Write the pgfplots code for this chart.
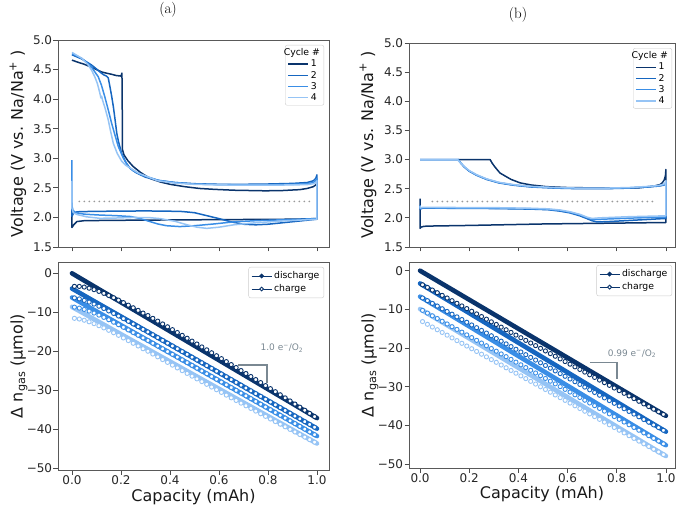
\documentclass[border=0pt]{standalone}
\usepackage{pgfplots}
\pgfplotsset{compat=1.18}
\usepackage{fontspec}
\newfontfamily\dv{DejaVu Sans}
\definecolor{c1}{RGB}{10,52,108}
\definecolor{c2}{RGB}{22,102,192}
\definecolor{c3}{RGB}{58,142,230}
\definecolor{c4}{RGB}{150,196,245}
\definecolor{slate}{RGB}{122,136,146}
\pgfplotsset{
  myax/.style={scale only axis, anchor=south west,
    axis line style={draw=black!65, line width=0.8pt},
    tick style={black!70, line width=0.8pt},
    tick align=outside, major tick length=4.5pt,
    xtick pos=bottom, ytick pos=left,
    tick label style={font=\dv\fontsize{12}{14}\selectfont, text=black!85, inner sep=1.2pt},
    label style={font=\dv\fontsize{16}{18}\selectfont, text=black!90},
    xtick={0,0.2,0.4,0.6,0.8,1},
    legend image code/.code={\draw[mark repeat=2,mark phase=2,##1] plot coordinates {(0pt,0pt) (10pt,0pt) (20pt,0pt)};},
  },
  vlt/.style={ymin=1.5, ymax=5.0, ytick={1.5,2,2.5,3,3.5,4,4.5,5},
    yticklabels={1.5,2.0,2.5,3.0,3.5,4.0,4.5,5.0}, xticklabels={},
    ylabel={Voltage (V vs. Na/Na\textsuperscript{+} )},
    legend cell align=left,
    legend style={font=\dv\fontsize{9.3}{10}\selectfont, draw=black!20, rounded corners=2pt,
      fill=white, inner xsep=2pt, inner ysep=1.5pt, row sep=-1.2pt}},
  gas/.style={ytick={-50,-40,-30,-20,-10,0},
    yticklabels={−50,−40,−30,−20,−10,0},
    xticklabels={0.0,0.2,0.4,0.6,0.8,1.0},
    xlabel={Capacity (mAh)},
    ylabel={Δ n\textsubscript{gas} (µmol)},
    legend cell align=left,
    legend style={font=\dv\fontsize{9.3}{10}\selectfont, draw=black!20, rounded corners=2pt,
      fill=white, inner xsep=2.5pt, inner ysep=2.5pt, row sep=0.5pt}},
  vl/.style={line width=1.5pt, line join=round},
  dis/.style={forget plot, line width=4.6pt, line cap=round, line join=round},
  chg/.style={forget plot, only marks, mark=*, mark size=2.1pt, mark options={fill=white, line width=0.9pt}},
  dotl/.style={gray!80, line width=1.9pt, dash pattern=on 0pt off 5pt, line cap=round},
}
\begin{document}
\begin{tikzpicture}
\path[use as bounding box] (0pt,0pt) rectangle (685pt,509pt);
\node[font=\fontsize{15}{17}\selectfont] at (168pt,499pt) {(a)};
\node[font=\fontsize{15}{17}\selectfont] at (518pt,494.5pt) {(b)};

% ---------------- (a) voltage ----------------
\begin{axis}[myax, vlt, at={(58pt,262pt)}, width=271pt, height=207pt,
  xmin=-0.057, xmax=1.049,
  ylabel style={at={(axis description cs:-0.148,0.5)}, anchor=center},
  legend style={at={(0.982,0.976)}, anchor=north east}]
\addplot[dotl, forget plot] coordinates {(0.03,2.27) (0.97,2.27)};
\addlegendimage{empty legend}
\addlegendentry{\hspace{-27pt}Cycle \#}
\addplot[vl, c1] coordinates {(0,2.05)(0,1.83)(0.008,1.88)(0.02,1.93)(0.05,1.945)(0.15,1.95)(0.3,1.955)(0.5,1.96)(0.7,1.965)(0.9,1.97)(1,1.98)(1,2.58)(0.995,2.55)(0.985,2.52)(0.96,2.49)(0.93,2.47)(0.86,2.455)(0.79,2.45)(0.66,2.46)(0.58,2.475)(0.52,2.49)(0.46,2.52)(0.40,2.56)(0.36,2.60)(0.318,2.66)(0.28,2.76)(0.25,2.86)(0.228,2.96)(0.212,3.06)(0.206,3.15)(0.205,4.0)(0.204,4.44)(0.2,4.39)(0.18,4.40)(0.162,4.42)(0.14,4.44)(0.121,4.46)(0.1,4.50)(0.079,4.54)(0.05,4.59)(0.02,4.63)(0,4.66)};
\addlegendentry{1}
\addplot[vl, c2] coordinates {(0,2.25)(0,2.02)(0.006,2.07)(0.02,2.095)(0.06,2.10)(0.15,2.105)(0.3,2.11)(0.4,2.105)(0.45,2.10)(0.5,2.08)(0.55,2.03)(0.6,1.98)(0.65,1.925)(0.7,1.885)(0.75,1.875)(0.8,1.885)(0.86,1.91)(0.93,1.94)(1,1.97)(1,2.72)(0.995,2.66)(0.985,2.62)(0.96,2.59)(0.9,2.575)(0.8,2.565)(0.7,2.56)(0.6,2.56)(0.5,2.57)(0.42,2.59)(0.36,2.62)(0.3,2.68)(0.26,2.76)(0.237,2.83)(0.22,2.93)(0.203,3.08)(0.19,3.28)(0.183,3.42)(0.176,3.65)(0.169,3.87)(0.162,4.05)(0.155,4.21)(0.148,4.36)(0.141,4.39)(0.13,4.41)(0.12,4.44)(0.1,4.51)(0.079,4.58)(0.04,4.68)(0,4.75)};
\addlegendentry{2}
\addplot[vl, c3] coordinates {(0,2.97)(0,2.2)(0.004,2.12)(0.015,2.08)(0.05,2.055)(0.114,2.04)(0.18,2.03)(0.24,2.015)(0.28,1.98)(0.318,1.93)(0.35,1.89)(0.386,1.86)(0.44,1.845)(0.5,1.86)(0.58,1.89)(0.66,1.925)(0.75,1.945)(0.86,1.96)(1,1.98)(1,2.66)(0.995,2.62)(0.985,2.59)(0.96,2.57)(0.9,2.56)(0.8,2.55)(0.7,2.55)(0.6,2.555)(0.5,2.565)(0.42,2.59)(0.35,2.63)(0.284,2.72)(0.25,2.79)(0.23,2.86)(0.21,3.0)(0.189,3.2)(0.175,3.4)(0.162,3.59)(0.148,3.82)(0.134,4.04)(0.12,4.24)(0.107,4.38)(0.09,4.48)(0.079,4.55)(0.04,4.69)(0,4.77)};
\addlegendentry{3}
\addplot[vl, c4] coordinates {(0,2.62)(0,2.15)(0.006,2.08)(0.02,2.05)(0.06,2.01)(0.114,1.985)(0.18,1.99)(0.25,2.0)(0.32,1.995)(0.36,1.98)(0.42,1.935)(0.47,1.875)(0.51,1.835)(0.55,1.815)(0.6,1.835)(0.66,1.875)(0.75,1.91)(0.86,1.94)(1,1.97)(1,2.62)(0.995,2.59)(0.985,2.57)(0.96,2.555)(0.9,2.55)(0.8,2.545)(0.7,2.545)(0.6,2.55)(0.5,2.56)(0.42,2.58)(0.35,2.62)(0.271,2.75)(0.24,2.83)(0.22,2.88)(0.203,2.95)(0.185,3.08)(0.169,3.25)(0.158,3.45)(0.148,3.65)(0.135,3.85)(0.125,3.98)(0.121,4.05)(0.118,4.02)(0.114,4.1)(0.104,4.26)(0.093,4.38)(0.08,4.49)(0.066,4.58)(0.04,4.69)(0,4.79)};
\addlegendentry{4}
\end{axis}

% ---------------- (b) voltage ----------------
\begin{axis}[myax, vlt, at={(409pt,262pt)}, width=266pt, height=204pt,
  xmin=-0.045, xmax=1.037,
  ylabel style={at={(axis description cs:-0.154,0.5)}, anchor=center},
  legend style={at={(0.989,0.975)}, anchor=north east}]
\addplot[dotl, forget plot] coordinates {(0.05,2.28) (0.95,2.28)};
\addlegendimage{empty legend}
\addlegendentry{\hspace{-27pt}Cycle \#}
\addplot[vl, c1] coordinates {(0,2.33)(0,1.82)(0.004,1.84)(0.015,1.855)(0.05,1.86)(0.2,1.87)(0.5,1.895)(0.8,1.91)(1,1.92)(1,2.83)(0.998,2.72)(0.993,2.65)(0.985,2.6)(0.976,2.57)(0.95,2.545)(0.89,2.515)(0.8,2.51)(0.69,2.515)(0.6,2.52)(0.515,2.535)(0.45,2.565)(0.407,2.6)(0.37,2.66)(0.345,2.72)(0.325,2.77)(0.305,2.87)(0.293,2.94)(0.285,3.0)(0.155,3.0)};
\addlegendentry{1}
\addplot[vl, c2] coordinates {(0,2.22)(0,2.15)(0.01,2.165)(0.1,2.165)(0.3,2.16)(0.45,2.15)(0.52,2.14)(0.57,2.115)(0.61,2.085)(0.65,2.035)(0.68,1.985)(0.7,1.95)(0.72,1.93)(0.76,1.935)(0.85,1.955)(1,1.99)(1,2.6)(0.997,2.575)(0.99,2.56)(0.97,2.545)(0.93,2.53)(0.85,2.51)(0.75,2.50)(0.65,2.50)(0.55,2.51)(0.45,2.53)(0.38,2.56)(0.32,2.6)(0.27,2.66)(0.23,2.73)(0.2,2.8)(0.18,2.87)(0.165,2.94)(0.155,3.0)(0,3.0)};
\addlegendentry{2}
\addplot[vl, c3] coordinates {(0,2.2)(0,2.16)(0.01,2.17)(0.3,2.165)(0.45,2.155)(0.52,2.145)(0.57,2.125)(0.61,2.095)(0.65,2.05)(0.68,2.0)(0.7,1.97)(0.73,1.975)(0.85,1.995)(1,2.015)(1,2.62)(0.997,2.585)(0.99,2.565)(0.97,2.55)(0.93,2.535)(0.85,2.515)(0.75,2.505)(0.65,2.505)(0.55,2.515)(0.45,2.535)(0.38,2.565)(0.32,2.605)(0.27,2.665)(0.23,2.735)(0.2,2.805)(0.18,2.875)(0.165,2.945)(0.155,3.0)(0,3.0)};
\addlegendentry{3}
\addplot[vl, c4] coordinates {(0,2.21)(0,2.17)(0.01,2.18)(0.3,2.175)(0.45,2.165)(0.52,2.155)(0.57,2.135)(0.61,2.105)(0.65,2.06)(0.68,2.01)(0.7,1.99)(0.73,2.0)(0.85,2.02)(1,2.035)(1,2.64)(0.997,2.595)(0.99,2.575)(0.97,2.555)(0.93,2.54)(0.85,2.52)(0.75,2.51)(0.65,2.51)(0.55,2.52)(0.45,2.54)(0.38,2.57)(0.32,2.61)(0.27,2.67)(0.23,2.74)(0.2,2.81)(0.18,2.88)(0.163,2.95)(0.152,3.0)(0,3.0)};
\addlegendentry{4}
\end{axis}

% ---------------- (a) gas ----------------
\begin{axis}[myax, gas, at={(58pt,39pt)}, width=271pt, height=208pt,
  xmin=-0.057, xmax=1.049, ymin=-50.4, ymax=2.9,
  ylabel style={at={(axis description cs:-0.144,0.5)}, anchor=center},
  xlabel style={at={(axis description cs:0.5,-0.092)}, anchor=north, inner sep=0pt},
  legend style={at={(0.982,0.976)}, anchor=north east}]
\addlegendimage{c1, line width=0.9pt, mark=*, mark size=1.9pt}
\addlegendentry{discharge}
\addlegendimage{c1, line width=0.9pt, mark=*, mark size=1.9pt, mark options={fill=white}}
\addlegendentry{charge}
\addplot[dis, c1] coordinates {(0,0)(0.1,-3.71)(0.2,-7.42)(0.3,-11.13)(0.4,-14.84)(0.5,-18.55)(0.6,-22.26)(0.7,-25.97)(0.8,-29.68)(0.9,-33.39)(1.0,-37.1)};
\addplot[chg, c1] coordinates {(0.01,-3.34)(0.03,-3.36)(0.05,-3.52)(0.07,-3.81)(0.09,-4.18)(0.11,-4.63)(0.13,-5.13)(0.15,-5.68)(0.17,-6.26)(0.19,-6.87)(0.21,-7.51)(0.23,-8.16)(0.25,-8.83)(0.27,-9.50)(0.29,-10.19)(0.31,-10.82)(0.33,-11.54)(0.35,-12.26)(0.37,-12.98)(0.39,-13.71)(0.41,-14.44)(0.43,-15.17)(0.45,-15.90)(0.47,-16.64)(0.49,-17.38)(0.51,-18.12)(0.53,-18.87)(0.55,-19.61)(0.57,-20.36)(0.59,-21.12)(0.61,-21.87)(0.63,-22.63)(0.65,-23.39)(0.67,-24.15)(0.69,-24.92)(0.71,-25.68)(0.73,-26.45)(0.75,-27.23)(0.77,-28.00)(0.79,-28.78)(0.81,-29.56)(0.83,-30.34)(0.85,-31.13)(0.87,-31.92)(0.89,-32.71)(0.91,-33.50)(0.93,-34.30)(0.95,-35.09)(0.97,-35.89)(0.99,-36.70)};
\addplot[dis, c2] coordinates {(0,-3.9)(0.1,-7.49)(0.2,-11.08)(0.3,-14.67)(0.4,-18.26)(0.5,-21.85)(0.6,-25.44)(0.7,-29.03)(0.8,-32.62)(0.9,-36.21)(1.0,-39.8)};
\addplot[chg, c2] coordinates {(0.01,-6.29)(0.03,-6.56)(0.05,-6.93)(0.07,-7.37)(0.09,-7.88)(0.11,-8.43)(0.13,-9.02)(0.15,-9.64)(0.17,-10.28)(0.19,-10.94)(0.21,-11.61)(0.23,-12.29)(0.25,-12.98)(0.27,-13.67)(0.29,-14.37)(0.31,-15.03)(0.33,-15.75)(0.35,-16.47)(0.37,-17.18)(0.39,-17.90)(0.41,-18.62)(0.43,-19.34)(0.45,-20.06)(0.47,-20.77)(0.49,-21.49)(0.51,-22.21)(0.53,-22.93)(0.55,-23.65)(0.57,-24.36)(0.59,-25.08)(0.61,-25.80)(0.63,-26.52)(0.65,-27.24)(0.67,-27.95)(0.69,-28.67)(0.71,-29.39)(0.73,-30.11)(0.75,-30.83)(0.77,-31.54)(0.79,-32.26)(0.81,-32.98)(0.83,-33.70)(0.85,-34.42)(0.87,-35.13)(0.89,-35.85)(0.91,-36.57)(0.93,-37.29)(0.95,-38.01)(0.97,-38.72)(0.99,-39.44)};
\addplot[dis, c3] coordinates {(0,-6.2)(0.1,-9.75)(0.2,-13.3)(0.3,-16.85)(0.4,-20.4)(0.5,-23.95)(0.6,-27.5)(0.7,-31.05)(0.8,-34.6)(0.9,-38.15)(1.0,-41.7)};
\addplot[chg, c3] coordinates {(0.01,-8.67)(0.03,-8.91)(0.05,-9.26)(0.07,-9.69)(0.09,-10.18)(0.11,-10.71)(0.13,-11.29)(0.15,-11.89)(0.17,-12.52)(0.19,-13.17)(0.21,-13.83)(0.23,-14.50)(0.25,-15.18)(0.27,-15.87)(0.29,-16.56)(0.31,-17.21)(0.33,-17.92)(0.35,-18.63)(0.37,-19.34)(0.39,-20.05)(0.41,-20.76)(0.43,-21.47)(0.45,-22.18)(0.47,-22.89)(0.49,-23.60)(0.51,-24.31)(0.53,-25.02)(0.55,-25.73)(0.57,-26.44)(0.59,-27.15)(0.61,-27.86)(0.63,-28.57)(0.65,-29.28)(0.67,-29.99)(0.69,-30.70)(0.71,-31.41)(0.73,-32.12)(0.75,-32.83)(0.77,-33.54)(0.79,-34.25)(0.81,-34.96)(0.83,-35.67)(0.85,-36.38)(0.87,-37.09)(0.89,-37.80)(0.91,-38.51)(0.93,-39.22)(0.95,-39.93)(0.97,-40.64)(0.99,-41.35)};
\addplot[dis, c4] coordinates {(0,-8.6)(0.1,-12.1)(0.2,-15.6)(0.3,-19.1)(0.4,-22.6)(0.5,-26.1)(0.6,-29.6)(0.7,-33.1)(0.8,-36.6)(0.9,-40.1)(1.0,-43.6)};
\addplot[chg, c4] coordinates {(0.01,-11.53)(0.03,-11.71)(0.05,-12.02)(0.07,-12.42)(0.09,-12.89)(0.11,-13.42)(0.13,-13.99)(0.15,-14.60)(0.17,-15.23)(0.19,-15.89)(0.21,-16.56)(0.23,-17.24)(0.25,-17.93)(0.27,-18.62)(0.29,-19.32)(0.31,-19.96)(0.33,-20.68)(0.35,-21.40)(0.37,-22.11)(0.39,-22.82)(0.41,-23.53)(0.43,-24.24)(0.45,-24.94)(0.47,-25.65)(0.49,-26.35)(0.51,-27.05)(0.53,-27.75)(0.55,-28.44)(0.57,-29.14)(0.59,-29.83)(0.61,-30.52)(0.63,-31.21)(0.65,-31.90)(0.67,-32.58)(0.69,-33.26)(0.71,-33.94)(0.73,-34.62)(0.75,-35.30)(0.77,-35.98)(0.79,-36.65)(0.81,-37.32)(0.83,-37.99)(0.85,-38.66)(0.87,-39.32)(0.89,-39.99)(0.91,-40.65)(0.93,-41.31)(0.95,-41.96)(0.97,-42.62)(0.99,-43.27)};
\addplot[slate, line width=1.4pt, forget plot] coordinates {(0.678,-23.5)(0.796,-23.5)(0.796,-28.1)};
\node[font=\dv\fontsize{9}{10}\selectfont, text=slate] at (axis cs:0.857,-19.2) {1.0 e\textsuperscript{−}/O\textsubscript{2}};
\end{axis}

% ---------------- (b) gas ----------------
\begin{axis}[myax, gas, at={(409pt,41pt)}, width=266pt, height=206pt,
  xmin=-0.045, xmax=1.037, ymin=-51, ymax=2.25,
  ylabel style={at={(axis description cs:-0.147,0.5)}, anchor=center},
  xlabel style={at={(axis description cs:0.5,-0.09)}, anchor=north, inner sep=0pt},
  legend style={at={(0.989,0.985)}, anchor=north east}]
\addlegendimage{c1, line width=0.9pt, mark=*, mark size=1.9pt}
\addlegendentry{discharge}
\addlegendimage{c1, line width=0.9pt, mark=*, mark size=1.9pt, mark options={fill=white}}
\addlegendentry{charge}
\addplot[dis, c1] coordinates {(0,0)(0.1,-3.75)(0.2,-7.5)(0.3,-11.25)(0.4,-15)(0.5,-18.75)(0.6,-22.5)(0.7,-26.25)(0.8,-30)(0.9,-33.75)(1.0,-37.5)};
\addplot[chg, c1] coordinates {(0.01,-3.64)(0.03,-4.33)(0.05,-5.01)(0.07,-5.69)(0.09,-6.38)(0.11,-7.06)(0.13,-7.75)(0.15,-8.43)(0.17,-9.11)(0.19,-9.80)(0.21,-10.48)(0.23,-11.17)(0.25,-11.85)(0.27,-12.53)(0.29,-13.22)(0.31,-13.90)(0.33,-14.59)(0.35,-15.27)(0.37,-15.95)(0.39,-16.64)(0.41,-17.32)(0.43,-18.01)(0.45,-18.69)(0.47,-19.37)(0.49,-20.06)(0.51,-20.74)(0.53,-21.43)(0.55,-22.11)(0.57,-22.79)(0.59,-23.48)(0.61,-24.16)(0.63,-24.85)(0.65,-25.53)(0.67,-26.21)(0.69,-26.90)(0.71,-27.58)(0.73,-28.27)(0.75,-28.95)(0.77,-29.63)(0.79,-30.32)(0.81,-31.00)(0.83,-31.69)(0.85,-32.37)(0.87,-33.05)(0.89,-33.74)(0.91,-34.42)(0.93,-35.11)(0.95,-35.79)(0.97,-36.47)(0.99,-37.16)};
\addplot[dis, c2] coordinates {(0,-3.3)(0.1,-7.13)(0.2,-10.96)(0.3,-14.79)(0.4,-18.62)(0.5,-22.45)(0.6,-26.28)(0.7,-30.11)(0.8,-33.94)(0.9,-37.77)(1.0,-41.6)};
\addplot[chg, c2] coordinates {(0.01,-7.05)(0.03,-7.75)(0.05,-8.45)(0.07,-9.14)(0.09,-9.84)(0.11,-10.54)(0.13,-11.24)(0.15,-11.94)(0.17,-12.63)(0.19,-13.33)(0.21,-14.03)(0.23,-14.73)(0.25,-15.43)(0.27,-16.12)(0.29,-16.82)(0.31,-17.52)(0.33,-18.22)(0.35,-18.92)(0.37,-19.61)(0.39,-20.31)(0.41,-21.01)(0.43,-21.71)(0.45,-22.41)(0.47,-23.10)(0.49,-23.80)(0.51,-24.50)(0.53,-25.20)(0.55,-25.90)(0.57,-26.59)(0.59,-27.29)(0.61,-27.99)(0.63,-28.69)(0.65,-29.39)(0.67,-30.08)(0.69,-30.78)(0.71,-31.48)(0.73,-32.18)(0.75,-32.88)(0.77,-33.57)(0.79,-34.27)(0.81,-34.97)(0.83,-35.67)(0.85,-36.37)(0.87,-37.06)(0.89,-37.76)(0.91,-38.46)(0.93,-39.16)(0.95,-39.86)(0.97,-40.55)(0.99,-41.25)};
\addplot[dis, c3] coordinates {(0,-6.7)(0.1,-10.54)(0.2,-14.38)(0.3,-18.22)(0.4,-22.06)(0.5,-25.9)(0.6,-29.74)(0.7,-33.58)(0.8,-37.42)(0.9,-41.26)(1.0,-45.1)};
\addplot[chg, c3] coordinates {(0.01,-10.25)(0.03,-10.96)(0.05,-11.66)(0.07,-12.36)(0.09,-13.07)(0.11,-13.77)(0.13,-14.48)(0.15,-15.18)(0.17,-15.88)(0.19,-16.59)(0.21,-17.29)(0.23,-18.00)(0.25,-18.70)(0.27,-19.40)(0.29,-20.11)(0.31,-20.81)(0.33,-21.52)(0.35,-22.22)(0.37,-22.92)(0.39,-23.63)(0.41,-24.33)(0.43,-25.04)(0.45,-25.74)(0.47,-26.44)(0.49,-27.15)(0.51,-27.85)(0.53,-28.56)(0.55,-29.26)(0.57,-29.96)(0.59,-30.67)(0.61,-31.37)(0.63,-32.08)(0.65,-32.78)(0.67,-33.48)(0.69,-34.19)(0.71,-34.89)(0.73,-35.60)(0.75,-36.30)(0.77,-37.00)(0.79,-37.71)(0.81,-38.41)(0.83,-39.12)(0.85,-39.82)(0.87,-40.52)(0.89,-41.23)(0.91,-41.93)(0.93,-42.64)(0.95,-43.34)(0.97,-44.04)(0.99,-44.75)};
\addplot[dis, c4] coordinates {(0,-9.9)(0.1,-13.7)(0.2,-17.5)(0.3,-21.3)(0.4,-25.1)(0.5,-28.9)(0.6,-32.7)(0.7,-36.5)(0.8,-40.3)(0.9,-44.1)(1.0,-47.9)};
\addplot[chg, c4] coordinates {(0.01,-13.15)(0.03,-13.85)(0.05,-14.56)(0.07,-15.26)(0.09,-15.96)(0.11,-16.66)(0.13,-17.36)(0.15,-18.07)(0.17,-18.77)(0.19,-19.47)(0.21,-20.17)(0.23,-20.87)(0.25,-21.58)(0.27,-22.28)(0.29,-22.98)(0.31,-23.68)(0.33,-24.38)(0.35,-25.09)(0.37,-25.79)(0.39,-26.49)(0.41,-27.19)(0.43,-27.89)(0.45,-28.60)(0.47,-29.30)(0.49,-30.00)(0.51,-30.70)(0.53,-31.40)(0.55,-32.11)(0.57,-32.81)(0.59,-33.51)(0.61,-34.21)(0.63,-34.91)(0.65,-35.62)(0.67,-36.32)(0.69,-37.02)(0.71,-37.72)(0.73,-38.42)(0.75,-39.13)(0.77,-39.83)(0.79,-40.53)(0.81,-41.23)(0.83,-41.93)(0.85,-42.64)(0.87,-43.34)(0.89,-44.04)(0.91,-44.74)(0.93,-45.44)(0.95,-46.15)(0.97,-46.85)(0.99,-47.55)};
\addplot[slate, line width=1.4pt, forget plot] coordinates {(0.691,-23.8)(0.801,-23.8)(0.801,-28.1)};
\node[font=\dv\fontsize{9}{10}\selectfont, text=slate] at (axis cs:0.862,-21.5) {0.99 e\textsuperscript{−}/O\textsubscript{2}};
\end{axis}
\end{tikzpicture}
\end{document}
